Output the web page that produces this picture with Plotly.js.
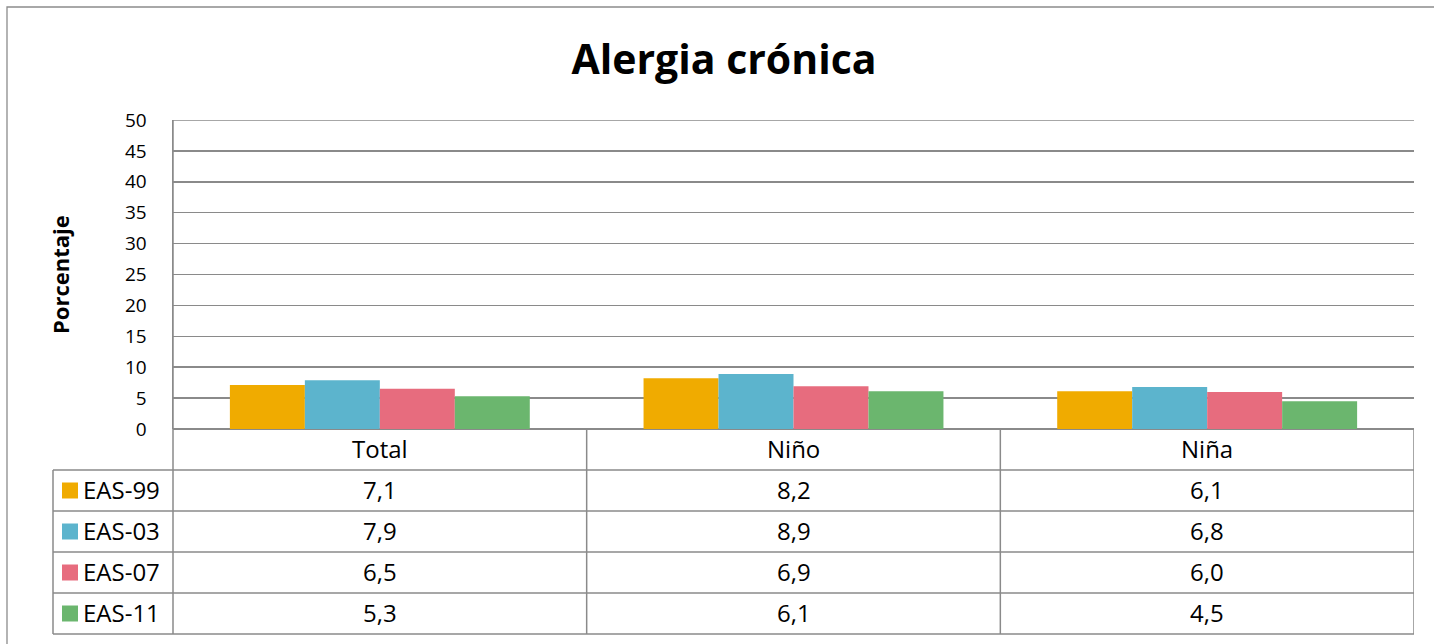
<!DOCTYPE html>
<html>
<head>
<meta charset="utf-8">
<script src="https://cdn.plot.ly/plotly-3.0.1.min.js"></script>
<style>html,body{margin:0;padding:0;background:#fff;}#chart{width:1434px;height:644px;}</style>
</head>
<body>
<div id="chart"></div>
<script>
const categories = ['Total', 'Niño', 'Niña'];
const seriesNames = ['EAS-99', 'EAS-03', 'EAS-07', 'EAS-11'];
const eas99 = [7.1, 8.2, 6.1];
const eas03 = [7.9, 8.9, 6.8];
const eas07 = [6.5, 6.9, 6.0];
const eas11 = [5.3, 6.1, 4.5];
const yTicks = [0, 5, 10, 15, 20, 25, 30, 35, 40, 45, 50];
const seriesColors = ['#F0AB00', '#5CB4CD', '#E76C7E', '#6BB66E'];

const seriesValues = [eas99, eas03, eas07, eas11];
const FONT = '"Open Sans", Lato, sans-serif';
const GRID = '#8a8a8a';

// plot-area geometry (pixels)
const L = 173, R = 1414, T = 120, B = 429, W = 1434, H = 644;
const px2x = p => (p - L) / (R - L);
const px2y = p => (B - p) / (B - T);
const rowH = 41, headerBottom = 470;

const traces = seriesValues.map((vals, i) => ({
  type: 'bar', x: categories, y: vals, name: seriesNames[i],
  marker: {color: seriesColors[i], line: {width: 0}},
  hoverinfo: 'skip'
}));

const shapes = [];
const annotations = [];
const line = {color: GRID, width: 1.5};

// outer frame
shapes.push({type: 'rect', xref: 'paper', yref: 'paper', x0: px2x(7), x1: px2x(W + 10), y0: px2y(7), y1: px2y(H + 10), line: {color: '#8c8c8c', width: 1.3}, layer: 'below'});
// top gridline at max of axis
shapes.push({type: 'line', xref: 'paper', yref: 'y', x0: 0, x1: 1, y0: yTicks[yTicks.length - 1], y1: yTicks[yTicks.length - 1], line, layer: 'below'});
// table horizontal lines
for (let r = 0; r <= seriesNames.length; r++) {
  const yy = px2y(headerBottom + r * rowH);
  shapes.push({type: 'line', xref: 'paper', yref: 'paper', x0: px2x(53), x1: 1, y0: yy, y1: yy, line});
}
// vertical lines: left column edge and axis continuation
shapes.push({type: 'line', xref: 'paper', yref: 'paper', x0: px2x(53), x1: px2x(53), y0: px2y(headerBottom), y1: px2y(headerBottom + rowH * seriesNames.length), line});
shapes.push({type: 'line', xref: 'paper', yref: 'paper', x0: 0, x1: 0, y0: 1, y1: px2y(headerBottom + rowH * seriesNames.length), line});
// category column separators
for (let c = 0; c < categories.length; c++) {
  shapes.push({type: 'line', xref: 'x', yref: 'paper', x0: c + 0.5, x1: c + 0.5, y0: 0, y1: px2y(headerBottom + rowH * seriesNames.length), line});
}
// category header labels
categories.forEach((c, j) => {
  annotations.push({xref: 'x', yref: 'paper', x: j, y: px2y((B + headerBottom) / 2 - 1), text: c, showarrow: false,
    font: {family: FONT, size: 24, color: '#000'}, xanchor: 'center', yanchor: 'middle'});
});
// rows
seriesNames.forEach((name, i) => {
  const cy = headerBottom + i * rowH + rowH / 2;
  shapes.push({type: 'rect', xref: 'paper', yref: 'paper', x0: px2x(62), x1: px2x(78), y0: px2y(cy - 8), y1: px2y(cy + 8), fillcolor: seriesColors[i], line: {width: 0}});
  annotations.push({xref: 'paper', yref: 'paper', x: px2x(81), y: px2y(cy - 1), text: name, showarrow: false,
    font: {family: FONT, size: 24, color: '#000'}, xanchor: 'left', yanchor: 'middle'});
  seriesValues[i].forEach((v, j) => {
    annotations.push({xref: 'x', yref: 'paper', x: j, y: px2y(cy - 1), text: v.toFixed(1).replace('.', ','), showarrow: false,
      font: {family: FONT, size: 24, color: '#000'}, xanchor: 'center', yanchor: 'middle'});
  });
});
// y axis title
annotations.push({xref: 'paper', yref: 'paper', x: px2x(60), y: px2y(275), text: '<b>Porcentaje</b>', textangle: -90, showarrow: false,
  font: {family: FONT, size: 22, color: '#000'}, xanchor: 'center', yanchor: 'middle'});

const layout = {
  width: W, height: H,
  margin: {l: L, r: W - R, t: T, b: H - B, pad: 0},
  paper_bgcolor: '#fff', plot_bgcolor: '#fff',
  separators: ',.',
  showlegend: false,
  barmode: 'group', bargap: 0.275, bargroupgap: 0,
  title: {text: '<b>Alergia crónica</b>', font: {family: FONT, size: 41, color: '#000'},
    x: 724 / W, xanchor: 'center', xref: 'container', y: 1 - 60 / H, yref: 'container', yanchor: 'middle'},
  xaxis: {type: 'category', range: [-0.5, 2.5], showticklabels: false, showgrid: false, zeroline: false,
    showline: false, ticks: ''},
  yaxis: {range: [0, 50], tickvals: yTicks, ticktext: yTicks.map(String), showgrid: true, gridcolor: GRID, gridwidth: 1.5,
    zeroline: true, zerolinecolor: GRID, zerolinewidth: 1.5, showline: true, linecolor: GRID, linewidth: 1.5,
    ticks: '', ticklabelstandoff: 21, tickfont: {family: FONT, size: 19, color: '#000'}},
  shapes, annotations,
  font: {family: FONT}
};

Plotly.newPlot('chart', traces, layout, {displayModeBar: false, staticPlot: true});
</script>
</body>
</html>
